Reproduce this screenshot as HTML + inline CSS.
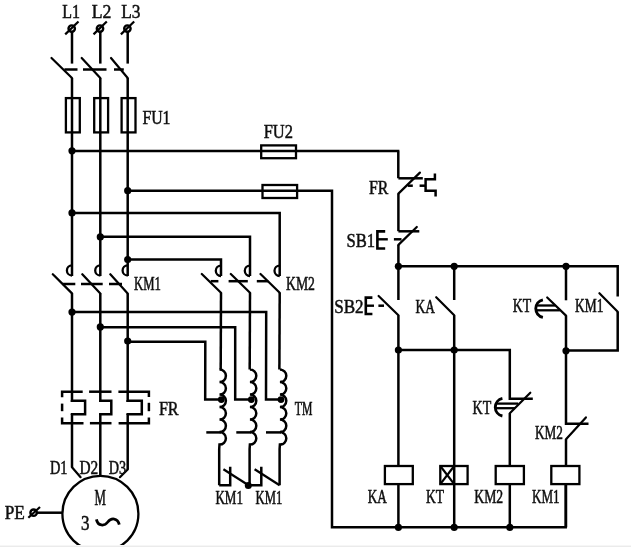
<!DOCTYPE html>
<html><head><meta charset="utf-8"><title>Autotransformer starter circuit</title>
<style>
html,body{margin:0;padding:0;background:#fff;}
body{width:631px;height:547px;overflow:hidden;position:relative;}
svg{display:block;position:absolute;left:0;top:0;}
.strip{position:absolute;left:0;top:545px;width:631px;height:2px;background:linear-gradient(#f6f6f6 0,#f6f6f6 50%,#ebebeb 50%,#ebebeb 100%);}
</style></head><body>
<svg width="631" height="547" viewBox="0 0 631 547">
<defs><filter id="soft" x="-2%" y="-2%" width="104%" height="104%"><feGaussianBlur stdDeviation="0.45"/></filter></defs>
<g filter="url(#soft)">
<g fill="none" stroke="#000" stroke-width="2.5" stroke-linecap="butt" stroke-linejoin="miter">
<circle cx="71.7" cy="28.6" r="3.2" fill="none" stroke-width="2.4"/>
<path d="M65.2,34.4 L78.5,21.5" stroke-width="2.2"/>
<path d="M72.0,31.5 L72.0,63.6"/>
<path d="M51.5,58.0 L72.0,78.0" stroke-width="2.2" stroke-linecap="round"/>
<path d="M72.0,78.0 L72.0,276.0"/>
<rect x="65.9" y="98.1" width="13.9" height="34.3" fill="none" stroke-width="2.3"/>
<path d="M72.0,265.3 a5.1,5.1 0 0 0 0,10.2" stroke-width="2.3"/>
<path d="M52.8,274.2 L72.0,293.4" stroke-width="2.2" stroke-linecap="round"/>
<path d="M72.0,293.4 L72.0,402.0"/>
<circle cx="100.0" cy="28.6" r="3.2" fill="none" stroke-width="2.4"/>
<path d="M93.5,34.4 L106.8,21.5" stroke-width="2.2"/>
<path d="M100.3,31.5 L100.3,63.6"/>
<path d="M81.7,58.0 L100.3,78.0" stroke-width="2.2" stroke-linecap="round"/>
<path d="M100.3,78.0 L100.3,276.0"/>
<rect x="94.2" y="98.1" width="13.9" height="34.3" fill="none" stroke-width="2.3"/>
<path d="M100.3,265.3 a5.1,5.1 0 0 0 0,10.2" stroke-width="2.3"/>
<path d="M82.3,274.2 L100.3,293.4" stroke-width="2.2" stroke-linecap="round"/>
<path d="M100.3,293.4 L100.3,402.0"/>
<circle cx="127.4" cy="28.6" r="3.2" fill="none" stroke-width="2.4"/>
<path d="M120.9,34.4 L134.2,21.5" stroke-width="2.2"/>
<path d="M127.7,31.5 L127.7,63.6"/>
<path d="M111.0,58.0 L127.7,78.0" stroke-width="2.2" stroke-linecap="round"/>
<path d="M127.7,78.0 L127.7,276.0"/>
<rect x="121.6" y="98.1" width="13.9" height="34.3" fill="none" stroke-width="2.3"/>
<path d="M127.7,265.3 a5.1,5.1 0 0 0 0,10.2" stroke-width="2.3"/>
<path d="M110.3,274.2 L127.7,293.4" stroke-width="2.2" stroke-linecap="round"/>
<path d="M127.7,293.4 L127.7,402.0"/>
<path d="M64.4,69.5 L77.5,69.5"/>
<path d="M83.0,69.5 L106.5,69.5"/>
<path d="M114.0,69.5 L123.8,69.5"/>
<path d="M62.5,284.0 L75.3,284.0"/>
<path d="M81.0,284.0 L102.7,284.0"/>
<path d="M109.0,284.0 L122.0,284.0"/>
<circle cx="72.0" cy="150.8" r="3.6" fill="#000" stroke="none"/>
<path d="M72.0,151.0 L399.4,151.0 L398.3,151.0 L398.3,178.3"/>
<rect x="261.2" y="145.4" width="34.8" height="12.8" fill="none" stroke-width="2.3"/>
<circle cx="127.7" cy="190.7" r="3.6" fill="#000" stroke="none"/>
<path d="M127.7,190.8 L332.0,190.8 L332.0,527.3 L565.7,527.3 L565.7,484.0"/>
<rect x="262.5" y="185.0" width="34.6" height="13.0" fill="none" stroke-width="2.3"/>
<circle cx="72.0" cy="212.9" r="3.6" fill="#000" stroke="none"/>
<path d="M72.0,212.9 L279.7,212.9 L279.7,276.0"/>
<circle cx="100.3" cy="236.9" r="3.6" fill="#000" stroke="none"/>
<path d="M100.3,236.7 L250.0,236.7 L250.0,276.0"/>
<circle cx="127.7" cy="259.5" r="3.6" fill="#000" stroke="none"/>
<path d="M127.7,259.6 L221.0,259.6 L221.0,276.0"/>
<path d="M221.0,265.6 a5.2,5.2 0 0 0 0,10.4" stroke-width="2.3"/>
<path d="M201.8,274.0 L221.0,292.7" stroke-width="2.2" stroke-linecap="round"/>
<path d="M221.0,292.7 L220.7,369.6"/>
<path d="M250.0,265.6 a5.2,5.2 0 0 0 0,10.4" stroke-width="2.3"/>
<path d="M230.8,274.0 L250.0,292.7" stroke-width="2.2" stroke-linecap="round"/>
<path d="M250.0,292.7 L249.7,369.6"/>
<path d="M279.7,265.6 a5.2,5.2 0 0 0 0,10.4" stroke-width="2.3"/>
<path d="M260.5,274.0 L279.7,292.7" stroke-width="2.2" stroke-linecap="round"/>
<path d="M279.7,292.7 L279.4,369.6"/>
<path d="M210.7,281.2 L218.4,281.2"/>
<path d="M228.6,281.2 L247.8,281.2"/>
<path d="M256.8,281.2 L268.3,281.2"/>
<circle cx="72.0" cy="312.1" r="3.6" fill="#000" stroke="none"/>
<path d="M72.0,312.0 L266.2,312.0 L266.0,399.6 L280.0,399.6"/>
<circle cx="100.3" cy="326.9" r="3.6" fill="#000" stroke="none"/>
<path d="M100.3,327.2 L235.2,327.2 L235.2,399.6 L250.3,399.6"/>
<circle cx="127.7" cy="341.0" r="3.6" fill="#000" stroke="none"/>
<path d="M127.7,341.7 L205.3,341.7 L205.2,399.6 L220.3,399.6"/>
<path d="M220.3,369.6 L219.5,369.6 a6.4,6.25 0 0 1 0,12.5 L219.5,382.1 a6.4,6.25 0 0 1 0,12.5 L219.5,394.6 a6.4,6.25 0 0 1 0,12.5 L219.5,407.1 a6.4,6.25 0 0 1 0,12.5 L219.5,419.6 a6.4,6.25 0 0 1 0,12.5 L219.5,432.1 a6.4,6.25 0 0 1 0,12.5 L219.2,449 L219.2,485.3" stroke-width="2.5"/>
<circle cx="221.3" cy="399.6" r="3.4" fill="#000" stroke="none"/>
<path d="M206.3,432.4 L221.3,432.4"/>
<path d="M250.3,369.6 L249.9,369.6 a6.4,6.25 0 0 1 0,12.5 L249.9,382.1 a6.4,6.25 0 0 1 0,12.5 L249.9,394.6 a6.4,6.25 0 0 1 0,12.5 L249.9,407.1 a6.4,6.25 0 0 1 0,12.5 L249.9,419.6 a6.4,6.25 0 0 1 0,12.5 L249.9,432.1 a6.4,6.25 0 0 1 0,12.5 L249.6,449 L249.6,485.3" stroke-width="2.5"/>
<circle cx="251.3" cy="399.6" r="3.4" fill="#000" stroke="none"/>
<path d="M236.3,432.4 L251.3,432.4"/>
<path d="M280.0,369.6 L279.9,369.6 a6.4,6.25 0 0 1 0,12.5 L279.9,382.1 a6.4,6.25 0 0 1 0,12.5 L279.9,394.6 a6.4,6.25 0 0 1 0,12.5 L279.9,407.1 a6.4,6.25 0 0 1 0,12.5 L279.9,419.6 a6.4,6.25 0 0 1 0,12.5 L279.9,432.1 a6.4,6.25 0 0 1 0,12.5 L279.6,449 L279.6,485.3" stroke-width="2.5"/>
<circle cx="281.0" cy="399.6" r="3.4" fill="#000" stroke="none"/>
<path d="M266.0,432.4 L281.0,432.4"/>
<path d="M219.2,485.3 L230.2,485.3 L230.2,466.8"/>
<path d="M248.5,485.3 L223.4,469.3" stroke-width="2.2"/>
<circle cx="248.3" cy="485.4" r="3.5" fill="#000" stroke="none"/>
<path d="M248.5,485.3 L261.3,485.3 L261.3,466.8"/>
<path d="M279.6,485.3 L254.6,469.3" stroke-width="2.2"/>
<path d="M72.0,400.0 L72.0,400.8 L85.1,400.8 L85.1,414.2 L72.0,414.2 L72.0,415.0"/>
<path d="M100.3,400.0 L100.3,400.8 L111.3,400.8 L111.3,414.2 L100.3,414.2 L100.3,415.0"/>
<path d="M127.7,400.0 L127.7,400.8 L141.8,400.8 L141.8,414.2 L127.7,414.2 L127.7,415.0"/>
<path d="M72.0,414.0 L72.0,467.3"/>
<path d="M72.0,467.3 L80.6,477.2" stroke-width="2.2" stroke-linecap="round"/>
<path d="M100.3,414.0 L100.3,476.0"/>
<path d="M127.7,414.0 L127.7,469.5"/>
<path d="M127.7,469.5 L119.9,477.2" stroke-width="2.2" stroke-linecap="round"/>
<path d="M62.1,397.2 L62.1,391.7 L82.7,391.7"/>
<path d="M89.1,391.7 L111.5,391.7"/>
<path d="M118.4,391.7 L148.9,391.7 L148.9,397.0"/>
<path d="M62.1,403.6 L62.1,411.2"/>
<path d="M148.9,402.8 L148.9,411.2"/>
<path d="M62.1,417.5 L62.1,423.2 L83.5,423.2"/>
<path d="M89.9,423.2 L111.5,423.2"/>
<path d="M118.6,423.2 L148.9,423.2 L148.9,417.5"/>
<circle cx="100.4" cy="513.8" r="38" fill="none" stroke-width="2.3"/>
<circle cx="33.6" cy="512.7" r="3.2" fill="none" stroke-width="2.4"/>
<path d="M28.3,517.8 L40.0,507.0" stroke-width="2.2"/>
<path d="M37.0,512.7 L62.4,512.7"/>
<path d="M96.4,519.4 c1.5,7 8,7 11.4,2.6 c3.3,-4.4 9.8,-4.4 11.5,2.6" stroke-width="2.8"/>
<path d="M398.4,178.3 L422.8,178.3"/>
<path d="M398.4,231.2 L398.4,193.6"/>
<path d="M398.4,193.6 L419.9,172.6" stroke-width="2.2" stroke-linecap="round"/>
<path d="M407.8,185.7 L412.8,185.7"/>
<path d="M419.6,185.7 L425.6,185.7"/>
<path d="M434.9,173.4 L434.9,179.3 L425.6,179.3 L425.6,190.7 L435.6,190.7 L435.6,196.6"/>
<path d="M398.4,231.3 L419.3,231.3"/>
<path d="M398.4,266.3 L398.4,244.9"/>
<path d="M398.4,244.9 L416.8,227.0" stroke-width="2.2" stroke-linecap="round"/>
<path d="M393.9,239.3 L401.5,239.3"/>
<path d="M385.2,231.4 L377.4,231.4 L377.4,248.5 L385.2,248.5" stroke-width="2.6"/>
<path d="M377.4,239.3 L387.8,239.3" stroke-width="2.4"/>
<circle cx="398.4" cy="266.3" r="3.6" fill="#000" stroke="none"/>
<circle cx="454.2" cy="266.3" r="3.6" fill="#000" stroke="none"/>
<circle cx="566.0" cy="266.3" r="3.6" fill="#000" stroke="none"/>
<path d="M398.4,266.2 L617.7,266.2 L617.7,296.4"/>
<path d="M398.4,266.0 L398.4,300.0"/>
<path d="M378.6,296.0 L398.4,315.3" stroke-width="2.2" stroke-linecap="round"/>
<path d="M398.4,315.3 L398.4,466.0"/>
<path d="M372.4,297.6 L365.8,297.6 L365.8,314.0 L372.4,314.0" stroke-width="2.6"/>
<path d="M365.8,305.7 L374.0,305.7" stroke-width="2.4"/>
<path d="M378.4,305.7 L384.0,305.7"/>
<path d="M454.2,266.0 L454.2,300.0"/>
<path d="M436.2,297.2 L454.2,315.3" stroke-width="2.2" stroke-linecap="round"/>
<path d="M454.2,315.3 L454.2,527.3"/>
<circle cx="398.4" cy="350.0" r="3.6" fill="#000" stroke="none"/>
<circle cx="454.2" cy="350.0" r="3.6" fill="#000" stroke="none"/>
<path d="M398.4,350.0 L509.8,350.0 L509.8,398.8 L532.8,398.8"/>
<path d="M530.3,392.7 L509.8,413.3" stroke-width="2.2" stroke-linecap="round"/>
<path d="M509.8,413.3 L509.8,466.0"/>
<path d="M502.4,398.4 A9.0,9.0 0 0 0 502.4,416.0" stroke-width="2.9"/>
<path d="M495.6,403.6 L518.2,403.6" stroke-width="2.3"/>
<path d="M495.4,408.2 L515.0,408.2" stroke-width="2.3"/>
<path d="M566.0,266.0 L566.0,300.3"/>
<path d="M547.2,297.5 L566.0,315.6" stroke-width="2.2" stroke-linecap="round"/>
<path d="M566.0,315.6 L566.0,423.8 L588.5,423.8"/>
<path d="M542.9,299.8 A9.0,9.0 0 0 0 542.9,317.4" stroke-width="2.9"/>
<path d="M536.9,305.5 L555.1,305.5" stroke-width="2.3"/>
<path d="M536.5,310.3 L559.9,310.3" stroke-width="2.3"/>
<circle cx="566.0" cy="350.8" r="3.6" fill="#000" stroke="none"/>
<path d="M599.4,293.2 L617.7,311.8" stroke-width="2.2" stroke-linecap="round"/>
<path d="M617.7,311.8 L617.7,350.6 L566.0,350.6"/>
<path d="M585.9,417.4 L566.0,439.2" stroke-width="2.2" stroke-linecap="round"/>
<path d="M566.0,439.2 L566.0,466.0"/>
<rect x="384.9" y="466.0" width="27.9" height="18.1" fill="#fff" stroke-width="2.3"/>
<path d="M398.4,484.0 L398.4,527.3"/>
<rect x="495.7" y="466.0" width="28.2" height="18.1" fill="#fff" stroke-width="2.3"/>
<path d="M509.8,484.0 L509.8,527.3"/>
<rect x="551.3" y="466.0" width="28.1" height="18.1" fill="#fff" stroke-width="2.3"/>
<path d="M566.0,484.0 L566.0,527.3"/>
<rect x="440.3" y="466.0" width="27.3" height="18.1" fill="none" stroke-width="2.3"/>
<path d="M440.3,466.0 L454.2,484.1" stroke-width="2.2"/>
<path d="M440.3,484.1 L454.2,466.0" stroke-width="2.2"/>
<circle cx="398.4" cy="527.3" r="3.6" fill="#000" stroke="none"/>
<circle cx="454.2" cy="527.3" r="3.6" fill="#000" stroke="none"/>
<circle cx="509.8" cy="527.3" r="3.6" fill="#000" stroke="none"/>
</g>
<g font-family="'Liberation Serif','Noto Serif CJK SC',serif" fill="#111" stroke="#111" stroke-width="0.5" vector-effect="non-scaling-stroke" style="paint-order:stroke">
<text transform="translate(62.21,18.1) scale(0.814,1)" font-size="19.6" vector-effect="non-scaling-stroke">L1</text>
<text transform="translate(91.65,18.1) scale(0.903,1)" font-size="19.6" vector-effect="non-scaling-stroke">L2</text>
<text transform="translate(121.16,18.1) scale(0.887,1)" font-size="19.6" vector-effect="non-scaling-stroke">L3</text>
<text transform="translate(142.41,123.8) scale(0.807,1)" font-size="19.6" vector-effect="non-scaling-stroke">FU1</text>
<text transform="translate(263.69,137.7) scale(0.838,1)" font-size="19.6" vector-effect="non-scaling-stroke">FU2</text>
<text transform="translate(369.01,194.3) scale(0.807,1)" font-size="19.6" vector-effect="non-scaling-stroke">FR</text>
<text transform="translate(346.48,246.6) scale(0.845,1)" font-size="19.6" vector-effect="non-scaling-stroke">SB1</text>
<text transform="translate(134.01,289.9) scale(0.649,1)" font-size="19.6" vector-effect="non-scaling-stroke">KM1</text>
<text transform="translate(285.98,290.0) scale(0.700,1)" font-size="19.6" vector-effect="non-scaling-stroke">KM2</text>
<text transform="translate(334.15,312.5) scale(0.870,1)" font-size="19.6" vector-effect="non-scaling-stroke">SB2</text>
<text transform="translate(415.59,312.5) scale(0.683,1)" font-size="19.6" vector-effect="non-scaling-stroke">KA</text>
<text transform="translate(512.67,312.0) scale(0.706,1)" font-size="19.6" vector-effect="non-scaling-stroke">KT</text>
<text transform="translate(574.99,312.0) scale(0.687,1)" font-size="19.6" vector-effect="non-scaling-stroke">KM1</text>
<text transform="translate(158.90,414.8) scale(0.824,1)" font-size="19.6" vector-effect="non-scaling-stroke">FR</text>
<text transform="translate(294.78,414.5) scale(0.597,1)" font-size="19.6" vector-effect="non-scaling-stroke">TM</text>
<text transform="translate(472.57,413.8) scale(0.714,1)" font-size="19.6" vector-effect="non-scaling-stroke">KT</text>
<text transform="translate(534.99,438.9) scale(0.675,1)" font-size="19.6" vector-effect="non-scaling-stroke">KM2</text>
<text transform="translate(49.96,474.0) scale(0.734,1)" font-size="19.6" vector-effect="non-scaling-stroke">D1</text>
<text transform="translate(79.43,474.0) scale(0.784,1)" font-size="19.6" vector-effect="non-scaling-stroke">D2</text>
<text transform="translate(108.76,474.0) scale(0.727,1)" font-size="19.6" vector-effect="non-scaling-stroke">D3</text>
<text transform="translate(94.40,505.3) scale(0.657,1.15)" font-size="19.6" vector-effect="non-scaling-stroke">M</text>
<text transform="translate(80.96,529.5) scale(0.866,1.02)" font-size="19.6" vector-effect="non-scaling-stroke">3</text>
<text transform="translate(4.77,519.1) scale(0.880,1)" font-size="19.6" vector-effect="non-scaling-stroke">PE</text>
<text transform="translate(215.40,504.1) scale(0.667,1)" font-size="19.6" vector-effect="non-scaling-stroke">KM1</text>
<text transform="translate(255.61,504.1) scale(0.647,1)" font-size="19.6" vector-effect="non-scaling-stroke">KM1</text>
<text transform="translate(367.69,503.3) scale(0.676,1)" font-size="19.6" vector-effect="non-scaling-stroke">KA</text>
<text transform="translate(425.98,503.3) scale(0.690,1)" font-size="19.6" vector-effect="non-scaling-stroke">KT</text>
<text transform="translate(474.28,503.4) scale(0.700,1)" font-size="19.6" vector-effect="non-scaling-stroke">KM2</text>
<text transform="translate(532.00,503.4) scale(0.667,1)" font-size="19.6" vector-effect="non-scaling-stroke">KM1</text>
</g>
</g>
</svg>
<div class="strip"></div>
</body></html>
